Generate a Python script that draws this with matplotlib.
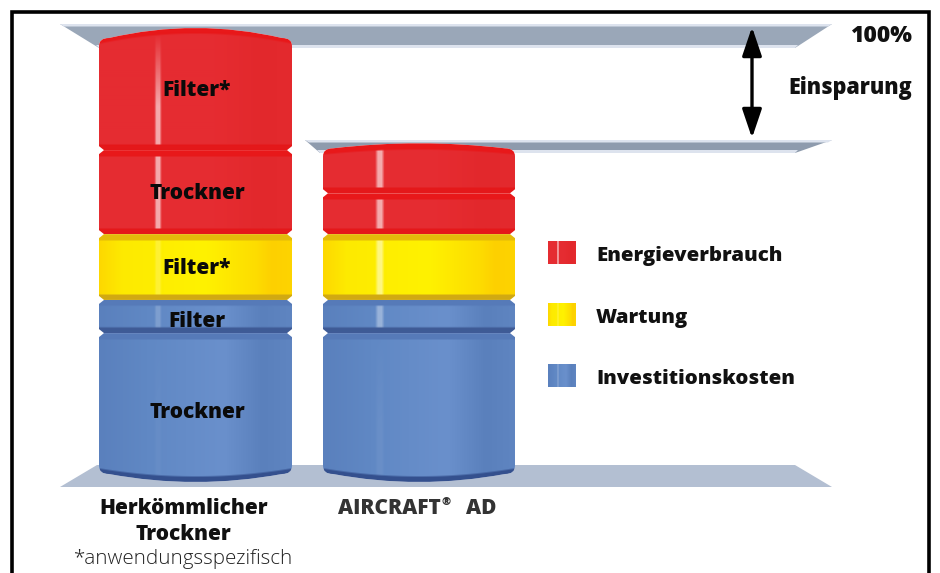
import numpy as np
import matplotlib
matplotlib.use('Agg')
import matplotlib.pyplot as plt
from matplotlib.colors import to_rgb
from matplotlib.path import Path

# stacked shares, bottom to top, 100 = conventional dryer
segments_left = [32.8, 7.3, 14.5, 18.5, 26.9]
segments_right = [32.8, 7.3, 14.5, 9.0, 11.0]
seg_kinds = ['blue', 'blue', 'yellow', 'red', 'red']
labels_left = ['Trockner', 'Filter', 'Filter*', 'Trockner', 'Filter*']
legend_names = ['Energieverbrauch', 'Wartung', 'Investitionskosten']
legend_kinds = ['red', 'yellow', 'blue']

FONT = 'Open Sans'
PX = 4.54  # pixels per value unit
Y0 = 482   # pixel row of value 0

stops = {
    'red': [(0, '#e52c32'), (.6, '#e62c31'), (.85, '#e2282c'), (1, '#e42a2e')],
    'yellow': [(0, '#fdd800'), (.12, '#fdea00'), (.55, '#fff200'), (.82, '#fddc00'), (.9, '#fdd000'), (1, '#fdd400')],
    'blue': [(0, '#5a80bd'), (.25, '#6088c4'), (.65, '#6a90cc'), (.85, '#5a80bc'), (1, '#5f85c1')],
}
band_top = {'red': '#e8181a', 'yellow': '#e4bb0a', 'blue': '#567ab8'}
band_bot = {'red': '#e4181a', 'yellow': '#d2a912', 'blue': '#3f5b96'}
stripe_left = [.03, .18, .2, .6, .6]
stripe_right = [.05, .35, .5, .6, .6]
swatch_glow = {'red': .5, 'yellow': .15, 'blue': .15}


def v(row):
    return (Y0 - row) / PX


def seg_image(ax, x0, x1, v0, v1, kind, clip, dome_top=0, dome_bot=0, stripe=(.29, .33), strength=.5, base=False, bars=True):
    w = int(x1 - x0)
    h = int(round((v1 - v0) * PX))
    u = np.linspace(0, 1, w)
    cols = np.array([to_rgb(s[1]) for s in stops[kind]])
    pos = [s[0] for s in stops[kind]]
    line = np.stack([np.interp(u, pos, cols[:, i]) for i in range(3)], axis=1)
    img = np.repeat(line[None, :, :], h, axis=0)
    fade = np.clip(1.6 * (1 - np.abs(u - sum(stripe) / 2) / ((stripe[1] - stripe[0]) / 2)), 0, 1)
    # highlight dies out towards the top of the long segments
    vfade = np.clip(np.linspace(-.1, 1.6, h), 0, 1) if h > 90 else np.ones(h)
    glow = strength * vfade[:, None] * fade[None, :]
    img = img + (1 - img) * glow[..., None]
    if bars:
        rows = np.arange(h)[:, None]
        par = (2 * u - 1)[None, :] ** 2
        top_mask = np.clip((7 + dome_top * par - rows) / 2, 0, 1)
        bot_mask = np.clip((rows - (h - 7 - dome_bot * par)) / 2, 0, 1)
        tc = np.array(to_rgb(band_top[kind]))
        bc = np.array(to_rgb('#34508e' if base else band_bot[kind]))
        img = img * (1 - top_mask[..., None]) + tc * top_mask[..., None]
        img = img * (1 - bot_mask[..., None]) + bc * bot_mask[..., None]
    im = ax.imshow(img, extent=(x0, x1, v0, v1), aspect='auto', origin='upper', zorder=3, interpolation='bilinear')
    if clip is not None:
        im.set_clip_path(clip, ax.transData)


def seg_path(x0, x1, v0, v1, dome_top=0, dome_bot=0):
    ins, ch = 5, 4 / PX
    xm = (x0 + x1) / 2
    verts, codes = [], []
    if dome_bot:
        e = v0 + dome_bot / PX
        verts += [(x0 + 10, e), (xm, 2 * v0 - e), (x1 - 10, e), (x1, e), (x1, e + 8 / PX)]
        codes += [Path.MOVETO, Path.CURVE3, Path.CURVE3, Path.CURVE3, Path.CURVE3]
    else:
        verts += [(x0 + ins, v0), (x1 - ins, v0), (x1, v0 + ch)]
        codes += [Path.MOVETO, Path.LINETO, Path.LINETO]
    if dome_top:
        e = v1 - dome_top / PX
        verts += [(x1, e - 8 / PX), (x1, e), (x1 - 10, e), (xm, 2 * v1 - e), (x0 + 10, e), (x0, e), (x0, e - 8 / PX)]
        codes += [Path.LINETO, Path.CURVE3, Path.CURVE3, Path.CURVE3, Path.CURVE3, Path.CURVE3, Path.CURVE3]
    else:
        verts += [(x1, v1 - ch), (x1 - ins, v1), (x0 + ins, v1), (x0, v1 - ch)]
        codes += [Path.LINETO] * 4
    if dome_bot:
        verts += [(x0, v0 + dome_bot / PX + 8 / PX), (x0, v0 + dome_bot / PX), (x0 + 10, v0 + dome_bot / PX)]
        codes += [Path.LINETO, Path.CURVE3, Path.CURVE3]
    else:
        verts += [(x0, v0 + ch), (x0 + ins, v0)]
        codes += [Path.LINETO, Path.LINETO]
    return Path(verts, codes)


def draw_column(ax, xc, width, values, kinds, dome_top, stripe, strengths):
    bottoms = np.concatenate([[0], np.cumsum(values)[:-1]])
    bars = ax.bar([xc] * len(values), values, width, bottom=bottoms, color='white', zorder=2)
    for i, rect in enumerate(bars):
        x0 = rect.get_x()
        x1 = x0 + rect.get_width()
        a = rect.get_y()
        b = a + rect.get_height()
        dt = dome_top if i == len(values) - 1 else 0
        db = 8 if i == 0 else 0
        clip = seg_path(x0, x1, a, b, dt, db)
        rect.set_clip_path(clip, ax.transData)
        seg_image(ax, x0, x1, a, b, kinds[i], clip, dt, db, stripe, strengths[i], base=(i == 0))
    return bottoms


def shelf(ax, xl_back, xr_back, xl_front, xr_front, back, front, col, edge='#dde3ee'):
    ax.fill([xl_back, xr_back, xr_front, xl_front], [v(back), v(back), v(front), v(front)], color=col, lw=0, zorder=1)
    ax.fill([xl_back, xr_back, xr_back - 4, xl_back + 4], [v(back), v(back), v(back + 2.5), v(back + 2.5)], color=edge, lw=0, zorder=1)
    ax.fill([xl_front, xr_front, xr_front + 3, xl_front - 3], [v(front), v(front), v(front - 3), v(front - 3)], color=edge, lw=0, zorder=1)


def bold(x, row, s, ha='center', size=15, col='#111111', **kw):
    return ax.text(x, v(row + 1.5), s, ha=ha, va='center', fontsize=size, fontweight=800, family=FONT, color=col, **kw)


fig = plt.figure(figsize=(9.4, 5.73), dpi=100)
ax = fig.add_axes([0, 0, 1, 1])
ax.set_xlim(0, 940)
ax.set_ylim(v(573), v(0))
ax.axis('off')

# frame, open at the bottom
ax.plot([11.5, 11.5, 928.5, 928.5], [v(573), v(11.5), v(11.5), v(573)], color='black', lw=2.6, zorder=6, solid_joinstyle='miter')

# shelves
shelf(ax, 60, 832, 99, 795, 24, 48, '#9aa7b8')
shelf(ax, 305, 832, 320, 795, 140, 153, '#8e9bad')
ax.fill([97, 795, 832, 60], [v(465), v(465), v(487), v(487)], color='#b3bfd2', lw=0, zorder=1)

draw_column(ax, 195.5, 193, segments_left, seg_kinds, 10, (.285, .325), stripe_left)
draw_column(ax, 419, 192, segments_right, seg_kinds, 5, (.27, .32), stripe_right)

# segment names on the left column
bot = 0
for val, name, off in zip(segments_left, labels_left, [-.7, -.7, 0, 0, 0]):
    ax.text(197, bot + val / 2 + off - .3, name, ha='center', va='center', fontsize=15, fontweight=800, family=FONT, color='#0a0a0a', zorder=5)
    bot += val

# saving arrow
ax.annotate('', xy=(752, v(138)), xytext=(752, v(27)),
            arrowprops=dict(arrowstyle='<|-|>,head_length=.65,head_width=.22', color='black', lw=2.4, mutation_scale=27, shrinkA=0, shrinkB=0), zorder=5)

bold(912, 35, '100%', ha='right', size=16.5)
bold(912, 87, 'Einsparung', ha='right', size=15.5)

# legend
for row, name, kind in zip([253.5, 315, 376], legend_names, legend_kinds):
    seg_image(ax, 548, 576, v(row + 11), v(row - 12), kind, None, stripe=(.3, .4), strength=swatch_glow[kind], bars=False)
    bold(596, row + 1, name, ha='left', size=14.7)

# category labels
bold(183.5, 507, 'Herkömmlicher')
bold(183.5, 533, 'Trockner')
bold(441, 507, 'AIRCRAFT', ha='right', col='#333333')
bold(442, 501, '®', ha='left', size=8, col='#333333')
bold(496, 507, 'AD', ha='right', col='#333333')
ax.text(183.5, v(559), '*anwendungsspezifisch', ha='center', va='center', fontsize=14.8, fontweight=300, family=FONT, color='#222222')

ax.set_xlim(0, 940)
ax.set_ylim(v(573), v(0))
fig.savefig('out.png', dpi=100)
